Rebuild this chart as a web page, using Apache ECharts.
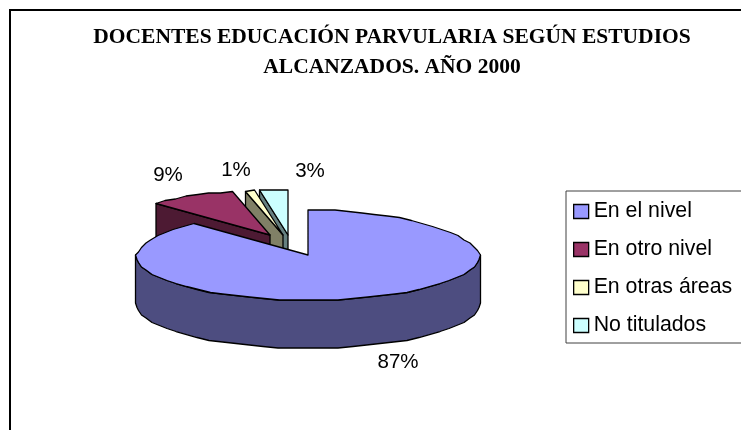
<!DOCTYPE html>
<html><head><meta charset="utf-8">
<style>html,body{margin:0;padding:0;background:#fff}#c{width:741px;height:430px}</style>
<script src="https://cdn.jsdelivr.net/npm/echarts@6/dist/echarts.min.js"></script>
</head><body><div id="c"></div>
<script>
// DATA
var categories = ['En el nivel','En otro nivel','En otras áreas','No titulados'];
var values = [87.4, 8.8, 0.9, 2.9];
var percentLabels = ['87%','9%','1%','3%'];
var titleLines = ['DOCENTES EDUCACIÓN PARVULARIA SEGÚN ESTUDIOS','ALCANZADOS. AÑO 2000'];

// STYLE
var topColors = ['#9999FF','#993366','#FFFFCC','#CCFFFF'];
var sideColors = ['#4D4D80','#4D1A33','#808066','#668080'];
var explode = [[0,0],[-38,-20],[-25,-20],[-20,-20]];
var labelAt = [[398,362],[168,175],[236,170],[310,171]];
var zOrder = [4,3,2,1];
var CX=308, CY=255, RX=172, RY=45, DEPTH=48, BACK=0.09, STEP=5, GRID=1.5;

var total = values.reduce(function(a,b){return a+b;},0);
function startOf(i){var s=0;for(var k=0;k<i;k++)s+=values[k];return s/total*360;}
function snap(v){return Math.round(v/GRID)*GRID;}
function pt(deg,ox,oy,dz){
  var a=deg*Math.PI/180,s=Math.sin(a),c=Math.cos(a);
  var f=1-BACK*Math.max(c,0);
  return [CX+ox+snap(RX*s*f),CY+oy-snap(RY*c)+dz];
}
function arc(a0,a1,ox,oy,dz){
  var out=[],n=Math.max(1,Math.ceil((a1-a0)/STEP));
  for(var i=0;i<=n;i++)out.push(pt(a0+(a1-a0)*i/n,ox,oy,dz));
  return out;
}
function poly(points,fill){
  return {type:'polygon',shape:{points:points},style:{fill:fill,stroke:'#000',lineWidth:1.3,lineJoin:'round'}};
}
function makeRender(idx){
  return function(params,api){
    var v=api.value(0), a0=startOf(idx), a1=a0+v/total*360;
    var ox=explode[idx][0], oy=explode[idx][1];
    var tip=[CX+ox,CY+oy], ch=[];
    var w0=Math.max(a0,90), w1=Math.min(a1,270);
    if(w1>w0){
      var t=arc(w0,w1,ox,oy,0), b=arc(w0,w1,ox,oy,DEPTH).reverse();
      ch.push(poly(t.concat(b),sideColors[idx]));
    }
    function face(deg){
      var p=pt(deg,ox,oy,0);
      ch.push(poly([tip,p,[p[0],p[1]+DEPTH],[tip[0],tip[1]+DEPTH]],sideColors[idx]));
    }
    if(a0>180&&a0<360)face(a0);
    if(a1>0&&a1<180)face(a1);
    ch.push(poly([tip].concat(arc(a0,a1,ox,oy,0)),topColors[idx]));
    ch.push({type:'text',style:{text:percentLabels[idx],x:labelAt[idx][0],y:labelAt[idx][1],
      align:'center',verticalAlign:'middle',fill:'#000',font:'20.5px "Liberation Sans"'}});
    return {type:'group',children:ch};
  };
}
var series=categories.map(function(name,i){
  return {type:'custom',name:name,coordinateSystem:'none',z:zOrder[i],silent:true,
    itemStyle:{color:topColors[i]},
    data:[[values[i]]],renderItem:makeRender(i)};
});
var chart=echarts.init(document.getElementById('c'),null,{renderer:'canvas'});
chart.setOption({
  animation:false,backgroundColor:'#fff',
  title:{text:titleLines.join('\n'),left:387,top:17,textAlign:'center',
    textStyle:{fontFamily:'"Liberation Serif"',fontWeight:'bold',fontSize:21.5,lineHeight:30,color:'#000'}},
  legend:{left:566,top:191,orient:'vertical',selectedMode:false,data:categories,
    padding:[10,30,7,7],itemWidth:15,itemHeight:14,itemGap:17,icon:'rect',
    borderColor:'#404040',borderWidth:1,backgroundColor:'#fff',
    itemStyle:{borderColor:'#000',borderWidth:1.3},
    textStyle:{fontFamily:'"Liberation Sans"',fontSize:21.3,color:'#000',padding:[0,0,5,0]}},
  graphic:[{type:'rect',z:-1,shape:{x:10,y:10,width:900,height:600},style:{fill:'none',stroke:'#000',lineWidth:2}}],
  series:series
});
</script></body></html>
